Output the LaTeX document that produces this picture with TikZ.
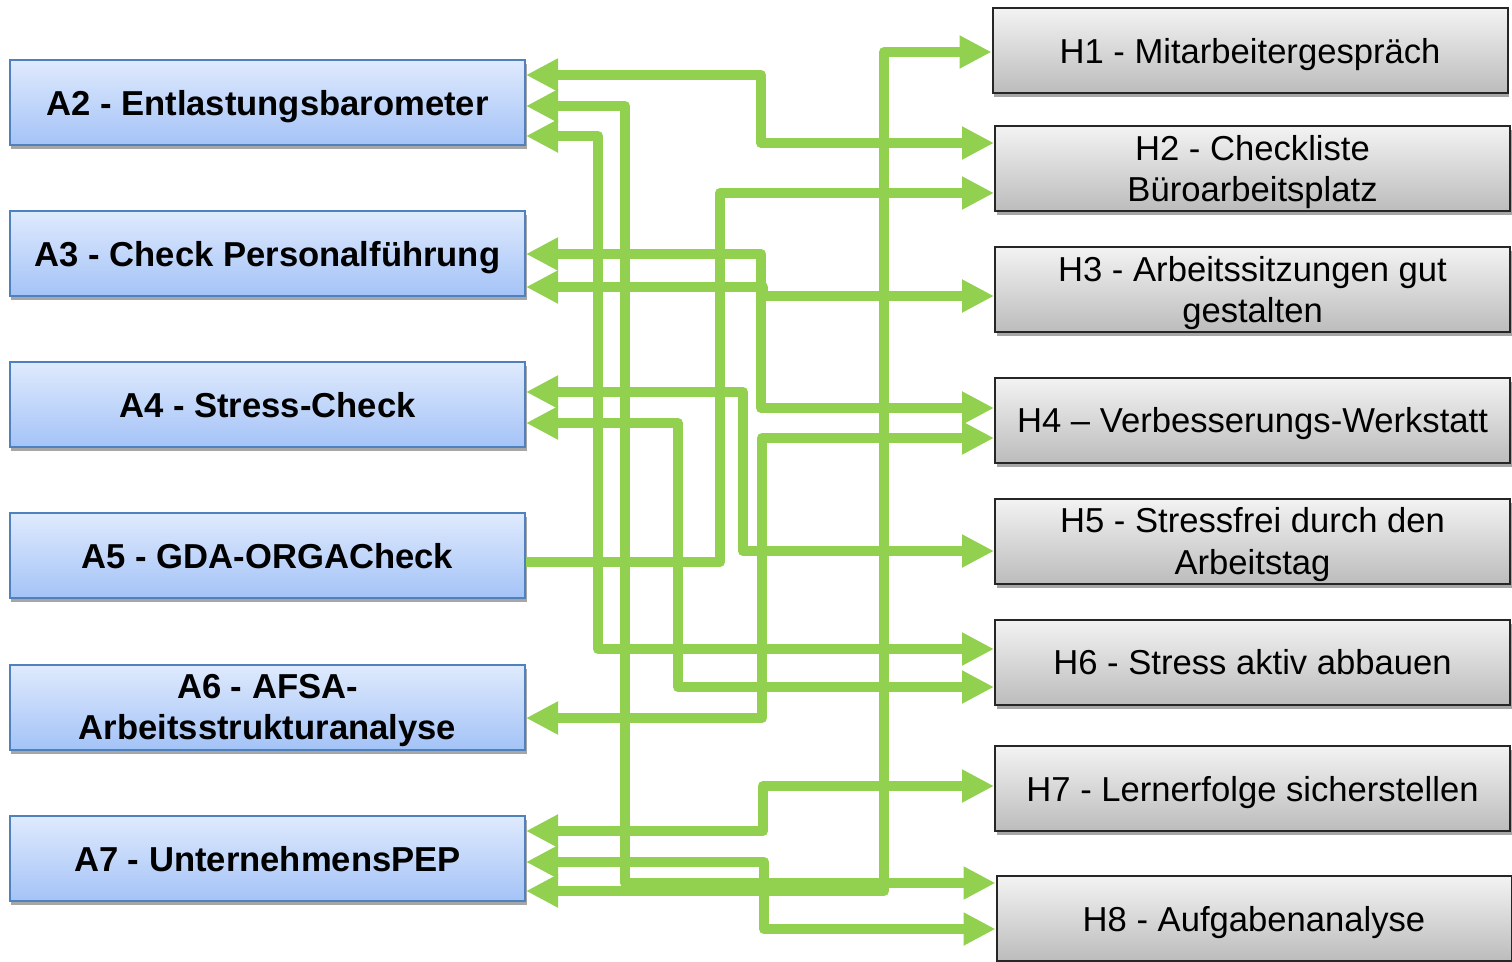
\documentclass[tikz,border=0pt]{standalone}
\usepackage{fontspec}
\setmainfont{Liberation Sans}
\usetikzlibrary{arrows.meta,shadows}
\definecolor{linkgreen}{RGB}{146,208,80}
\definecolor{aline}{RGB}{79,129,189}
\definecolor{atop}{RGB}{223,234,253}
\definecolor{abot}{RGB}{164,195,247}
\definecolor{htop}{RGB}{243,243,243}
\definecolor{hbot}{RGB}{188,188,188}
\begin{document}
\begin{tikzpicture}[x=0.2mm, y=-0.2mm,
  box/.style={line width=0.4mm, minimum width=103mm, minimum height=17mm, inner sep=0pt, align=center, text depth=0pt,
    drop shadow={shadow xshift=0.3mm, shadow yshift=-0.8mm, opacity=0.35, fill=black}},
  abox/.style={box, draw=aline, top color=atop, bottom color=abot, font=\fontsize{19.7}{23.5}\selectfont\bfseries},
  hbox/.style={box, draw=black!85, top color=htop, bottom color=hbot, font=\fontsize{19.7}{23.5}\selectfont},
  link/.style={draw=linkgreen, line width=2mm, line join=round},
  both/.style={link, {Triangle[length=6.4mm,width=6.2mm]}-{Triangle[length=6.4mm,width=6.2mm]}},
  one/.style={link, -{Triangle[length=6.4mm,width=6.2mm]}}]
\useasboundingbox (0,0) rectangle (1512,961);
\node[abox] (A2) at (267.5,102.5){A2 - Entlastungsbarometer};
\node[abox] (A3) at (267.5,253.5){A3 - Check Personalführung};
\node[abox] (A4) at (267.5,404.5){A4 - Stress-Check};
\node[abox] (A5) at (267.5,555.5){A5 - GDA-ORGACheck};
\node[abox] (A6) at (267.5,707){A6 - AFSA-\\Arbeitsstrukturanalyse};
\node[abox] (A7) at (267.5,858.5){A7 - UnternehmensPEP};
\node[hbox] (H1) at (1250,50.5){H1 - Mitarbeitergespräch};
\node[hbox] (H2) at (1252.5,168.5){H2 - Checkliste\\Büroarbeitsplatz};
\node[hbox] (H3) at (1252.5,289.5){H3 - Arbeitssitzungen gut\\gestalten};
\node[hbox] (H4) at (1252.5,420){H4 -- Verbesserungs-Werkstatt};
\node[hbox] (H5) at (1252.5,541){H5 - Stressfrei durch den\\Arbeitstag};
\node[hbox] (H6) at (1252.5,662){H6 - Stress aktiv abbauen};
\node[hbox] (H7) at (1252.5,788.5){H7 - Lernerfolge sicherstellen};
\node[hbox] (H8) at (1254,918.5){H8 - Aufgabenanalyse};
\draw[both] (A2.east |- 0,75) -| (761,143) -- (H2.west |- 0,143);
\draw[both] (A2.east |- 0,106) -| (625,883) -- (H8.west |- 0,883);
\draw[both] (A2.east |- 0,136) -| (598,649) -- (H6.west |- 0,649);
\draw[both] (A3.east |- 0,254) -| (761,408) -- (H4.west |- 0,408);
\draw[both] (A3.east |- 0,287) -| (763,296) -- (H3.west |- 0,296);
\draw[both] (A4.east |- 0,392) -| (743,551) -- (H5.west |- 0,551);
\draw[both] (A4.east |- 0,423) -| (678,687) -- (H6.west |- 0,687);
\draw[one] (A5.east |- 0,562) -| (720,193) -- (H2.west |- 0,193);
\draw[both] (A6.east |- 0,718) -| (762,438) -- (H4.west |- 0,438);
\draw[both] (A7.east |- 0,831) -| (763,786) -- (H7.west |- 0,786);
\draw[both] (A7.east |- 0,862) -| (764,929) -- (H8.west |- 0,929);
\draw[both] (A7.east |- 0,891) -| (884,52) -- (H1.west |- 0,52);
\end{tikzpicture}
\end{document}
